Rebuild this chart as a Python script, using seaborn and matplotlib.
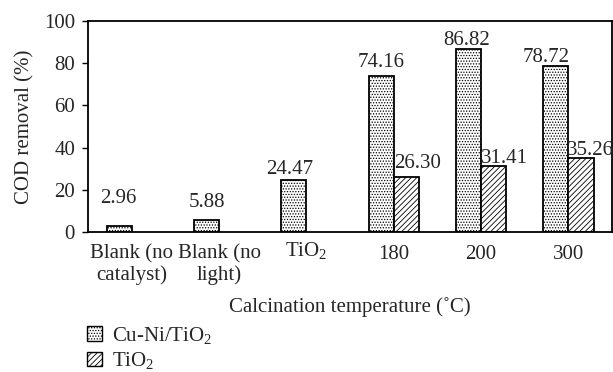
import matplotlib
matplotlib.use("Agg")
import matplotlib.pyplot as plt
from matplotlib.patches import Patch
from matplotlib.transforms import ScaledTranslation
import numpy as np
import pandas as pd
import seaborn as sns

categories = ["Blank (no\ncatalyst)", "Blank (no\nlight)", "TiO$_2$", "180", "200", "300"]
cuni_values = [2.96, 5.88, 24.47, 74.16, 86.82, 78.72]
tio2_values = [np.nan, np.nan, np.nan, 26.30, 31.41, 35.26]
series_names = ["Cu-Ni/TiO$_2$", "TiO$_2$"]
y_ticks = [0, 20, 40, 60, 80, 100]

# hand placement of the value labels (dx, gap above bar), in pixels
cuni_label_shift = [(-1, 23), (0, 13), (-4, 6), (0, 9), (-2, 4), (-10, 4)]
tio2_label_shift = [(0, 0), (0, 0), (0, 0), (11, 9), (11, 3), (9, 3)]

sns.set_style("white")
plt.rcParams["font.family"] = ["Liberation Serif", "DejaVu Serif"]
plt.rcParams["mathtext.fontset"] = "custom"
plt.rcParams["mathtext.rm"] = "Liberation Serif"
plt.rcParams["mathtext.it"] = "Liberation Serif:italic"
plt.rcParams["hatch.linewidth"] = 0.6
plt.rcParams["hatch.color"] = "black"

df = pd.DataFrame({
    "category": categories * 2,
    "series": [series_names[0]] * len(categories) + [series_names[1]] * len(categories),
    "value": cuni_values + tio2_values,
})

fig = plt.figure(figsize=(6.13, 3.72), dpi=100)
ax = fig.add_axes([0.1436, 0.3763, 0.855, 0.567])

sns.barplot(data=df, x="category", y="value", hue="series", order=categories,
            hue_order=series_names, palette=["white", "white"], width=0.575,
            errorbar=None, edgecolor="black", linewidth=1.3, legend=False, ax=ax)

hatches = ["......", "//////"]
fs = 15
px = 72.0 / fig.dpi
shifts = [cuni_label_shift, tio2_label_shift]
for i, cont in enumerate(ax.containers):
    for bar in cont:
        bar.set_hatch(hatches[i])
        bar.set_edgecolor("black")
        h = bar.get_height()
        if not np.isfinite(h):
            continue
        xc = bar.get_x() + bar.get_width() / 2
        k = int(round(xc))
        dx, dy = shifts[i][k]
        ax.annotate(f"{h:.2f}", xy=(xc, h), xytext=(dx * px, dy * px),
                    textcoords="offset points", ha="center", va="baseline",
                    fontsize=fs)

ax.set_ylim(0, 100)
ax.set_xlim(-0.5, len(categories) - 0.5)
ax.set_yticks(y_ticks)
ax.set_xticks(range(len(categories)))
ax.set_xticks(np.arange(-0.5, len(categories), 1.0), minor=True)
ax.set_xticklabels(categories, fontsize=fs, linespacing=1.1)
ax.tick_params(axis="x", which="major", length=0, pad=9)
ax.tick_params(axis="x", which="minor", length=3, width=1, direction="out", color="black")
ax.tick_params(axis="y", which="major", length=4.3, width=1, direction="out", color="black",
               labelsize=fs, left=True, pad=5)
# the subscripted label sits a little low when top-aligned; lift it onto the common baseline
tio2_tick = ax.get_xticklabels()[2]
tio2_tick.set_transform(tio2_tick.get_transform()
                        + ScaledTranslation(0, 5 / fig.dpi, fig.dpi_scale_trans))

ax.set_xlabel("Calcination temperature (˚C)", fontsize=fs, labelpad=9)
ax.set_ylabel("COD removal (%)", fontsize=fs, labelpad=7)
for sp in ax.spines.values():
    sp.set_visible(True)
    sp.set_color("black")
    sp.set_linewidth(1.3)

handles = [Patch(facecolor="white", edgecolor="black", hatch=h, linewidth=1.0) for h in hatches]
fig.legend(handles, series_names, loc="upper left", bbox_to_anchor=(0.142, 0.127),
           frameon=False, fontsize=fs, handlelength=0.72, handleheight=0.67,
           handletextpad=0.5, labelspacing=0.2, borderaxespad=0, borderpad=0)

fig.savefig("out.png", dpi=100)
